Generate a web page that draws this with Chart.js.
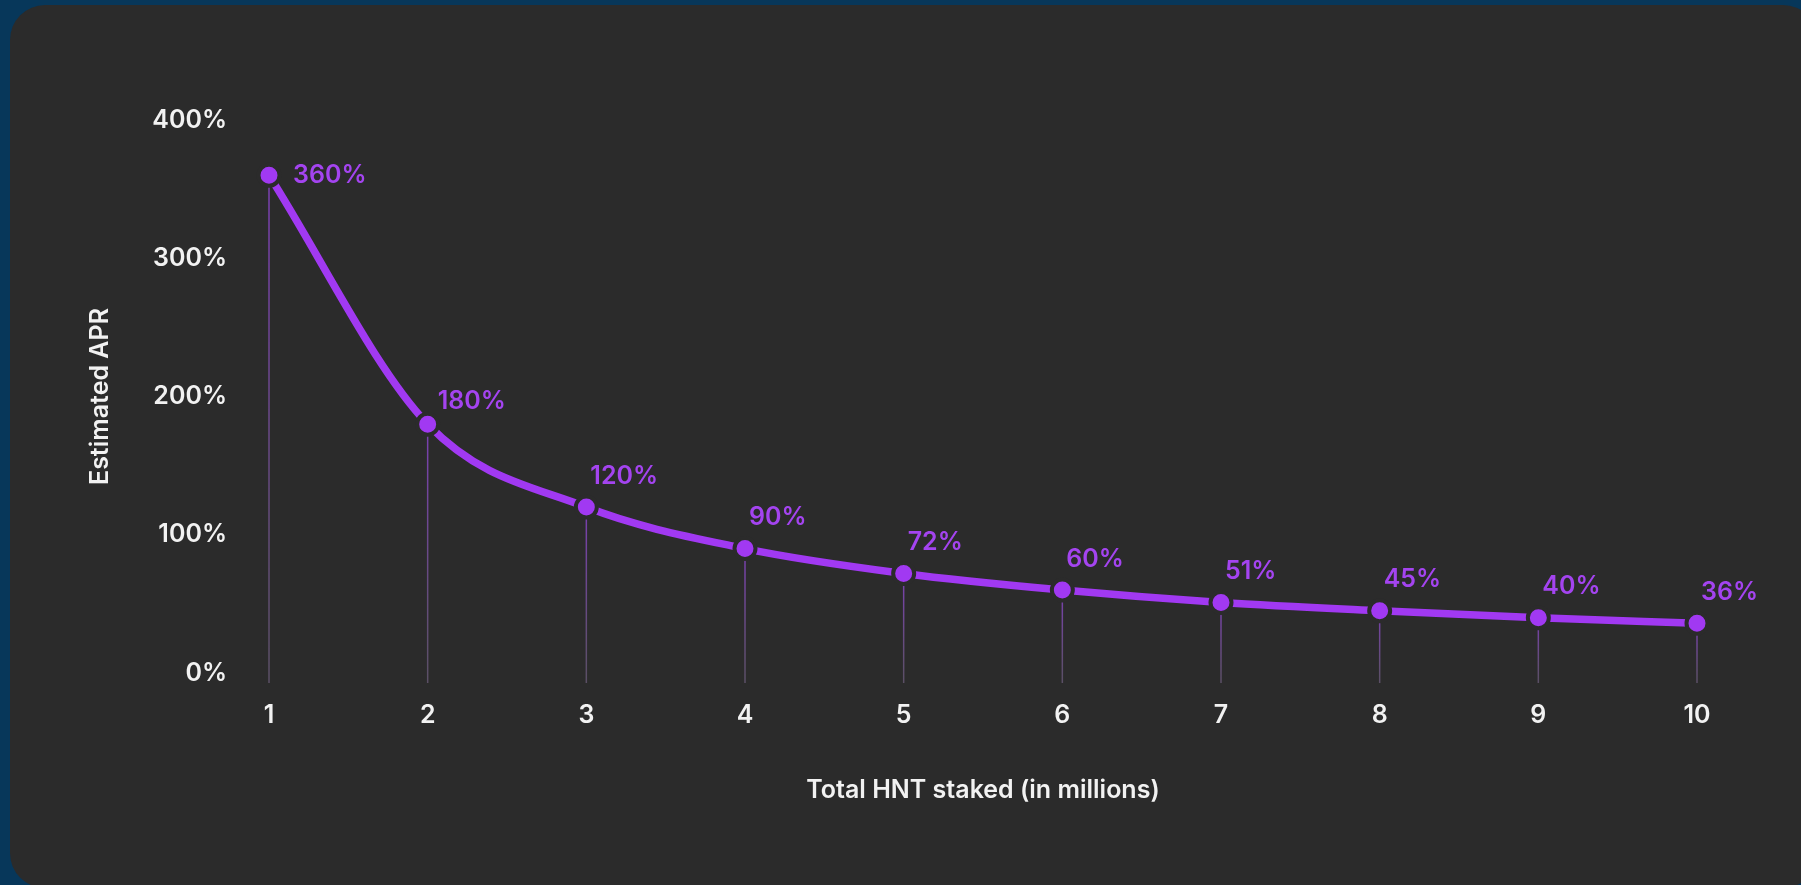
<!DOCTYPE html>
<html>
<head>
<meta charset="utf-8">
<script src="https://cdn.jsdelivr.net/npm/chart.js@4.4.1/dist/chart.umd.min.js"></script>
<style>
  html, body { margin: 0; padding: 0; }
  body { width: 1801px; height: 885px; background: #07375a; overflow: hidden; position: relative; }
  .card { position: absolute; left: 10px; top: 5px; width: 1808px; height: 883px; background: #2b2b2b; border-radius: 35px; }
  #aprChart { position: absolute; left: 0; top: 0; }
</style>
</head>
<body>
<div class="card"></div>
<canvas id="aprChart" width="1801" height="885"></canvas>
<script>
// total HNT staked (millions) vs estimated APR
var staked = ['1', '2', '3', '4', '5', '6', '7', '8', '9', '10'];
var apr = [360, 180, 120, 90, 72, 60, 51, 45, 40, 36];
var yTicks = [0, 100, 200, 300, 400];

var purple = '#a139f2';
var labelPurple = '#a444f0';
var cardBg = '#2b2b2b';
var textFont = { family: 'Inter', size: 25, weight: '600' };

// thin lines dropped from each point down past the zero line
var dropLines = {
  id: 'dropLines',
  beforeDatasetsDraw: function(chart) {
    var ctx = chart.ctx;
    var y0 = chart.scales.y.getPixelForValue(0) + 10;
    var pts = chart.getDatasetMeta(0).data;
    ctx.save();
    ctx.lineWidth = 1.5;
    pts.forEach(function(p) {
      var g = ctx.createLinearGradient(0, p.y, 0, y0);
      g.addColorStop(0, 'rgba(150, 70, 225, 0.75)');
      g.addColorStop(1, 'rgba(130, 110, 150, 0.55)');
      ctx.strokeStyle = g;
      ctx.beginPath();
      ctx.moveTo(p.x, p.y);
      ctx.lineTo(p.x, y0);
      ctx.stroke();
    });
    ctx.restore();
  }
};

// percentage labels next to the points
var valueLabels = {
  id: 'valueLabels',
  afterDatasetsDraw: function(chart) {
    var ctx = chart.ctx;
    var pts = chart.getDatasetMeta(0).data;
    ctx.save();
    ctx.font = '600 25px Inter';
    ctx.fillStyle = labelPurple;
    ctx.textAlign = 'left';
    ctx.textBaseline = 'middle';
    pts.forEach(function(p, i) {
      var txt = apr[i] + '%';
      if (i === 0) {
        ctx.fillText(txt, p.x + 24, p.y);
      } else if (i === 1) {
        ctx.fillText(txt, p.x + 10, p.y - 23);
      } else {
        ctx.fillText(txt, p.x + 4, p.y - 31);
      }
    });
    ctx.restore();
  }
};

new Chart(document.getElementById('aprChart'), {
  type: 'line',
  data: {
    labels: staked,
    datasets: [{
      data: apr,
      borderColor: purple,
      borderWidth: 7.5,
      cubicInterpolationMode: 'monotone',
      pointRadius: 10.5,
      pointBackgroundColor: purple,
      pointBorderColor: cardBg,
      pointBorderWidth: 4,
      pointHoverRadius: 10.5,
      fill: false
    }]
  },
  options: {
    responsive: false,
    animation: false,
    layout: { padding: { left: 85, right: 104, top: 120, bottom: 0 } },
    plugins: {
      legend: { display: false },
      tooltip: { enabled: false }
    },
    scales: {
      x: {
        grid: { display: false, drawTicks: false },
        border: { display: false },
        ticks: { color: '#f2f2f2', font: textFont, padding: 27 },
        title: {
          display: true,
          text: 'Total HNT staked (in millions)',
          color: '#f2f2f2',
          font: textFont,
          padding: { top: 0, bottom: 80 }
        },
        afterFit: function(s) { s.height = 212; }
      },
      y: {
        min: 0,
        max: 400,
        afterBuildTicks: function(s) { s.ticks = yTicks.map(function(v) { return { value: v }; }); },
        grid: { display: false, drawTicks: false },
        border: { display: false },
        ticks: {
          color: '#f2f2f2',
          font: textFont,
          padding: 42,
          callback: function(v) { return v + '%'; }
        },
        title: {
          display: true,
          text: 'Estimated APR',
          color: '#f2f2f2',
          font: textFont,
          padding: { top: 0, bottom: 0 }
        },
        afterFit: function(s) { s.width = 184; }
      }
    }
  },
  plugins: [dropLines, valueLabels]
});
</script>
</body>
</html>
